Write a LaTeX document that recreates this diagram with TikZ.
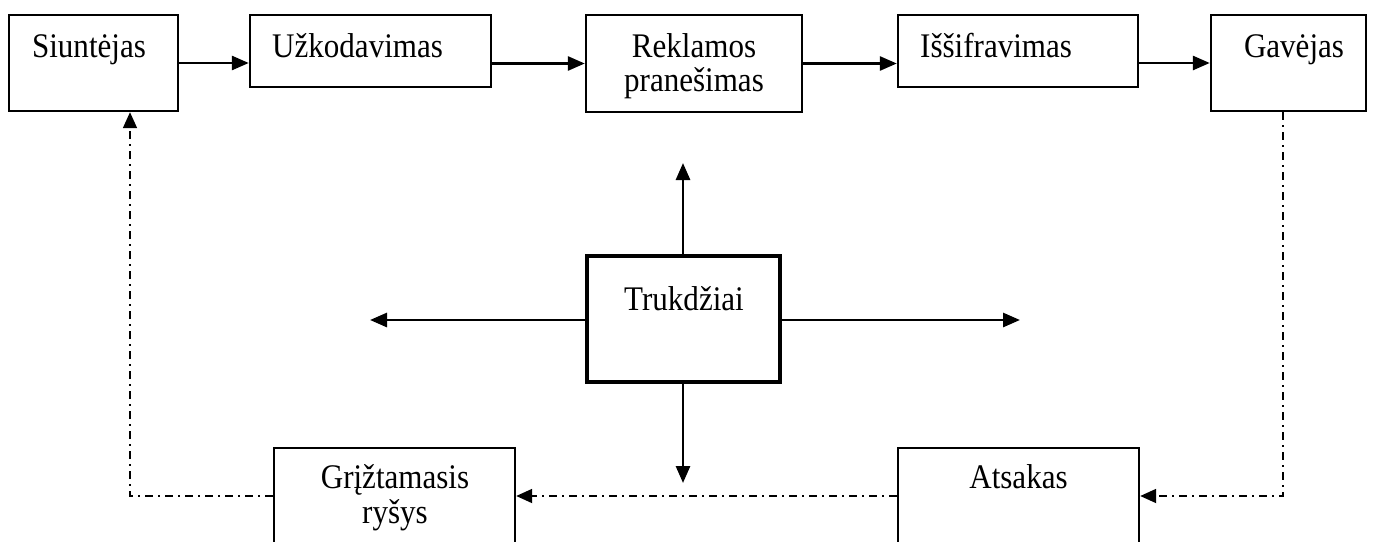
\documentclass[tikz,border=0pt]{standalone}
\usepackage{fontspec}
\setmainfont[FakeStretch=0.9]{Liberation Serif}
\usetikzlibrary{arrows.meta}

\tikzset{
  box/.style={draw, line width=2.4pt, inner sep=0pt, fill=white},
  lbl/.style={inner sep=0pt, font=\fontsize{34.5}{34}\selectfont, align=center},
  flow/.style={line width=2.8pt, -{Triangle[length=17pt,width=14pt]}},
  back/.style={line width=1.8pt, dash pattern=on 8pt off 5pt on 2pt off 5pt,
               -{Triangle[length=16pt,width=14pt]}},
}

\begin{document}
\begin{tikzpicture}[x=1pt, y=-1pt]
  \path[use as bounding box] (0,0) rectangle (1373,541);
  \clip (0,0) rectangle (1373,541);

  % top row
  \node[box, minimum width=169pt, minimum height=96pt] (snd) at (93.5,63) {};
  \node[box, minimum width=241pt, minimum height=72pt] (enc) at (370.5,51) {};
  \node[box, minimum width=216pt, minimum height=97pt] (msg) at (694,63.5) {};
  \node[box, minimum width=240pt, minimum height=72pt] (dec) at (1018,51) {};
  \node[box, minimum width=155pt, minimum height=96pt] (rcv) at (1288.5,63) {};

  % noise in the middle
  \node[box, line width=3.5pt, minimum width=193pt, minimum height=126pt] (noise) at (683.5,319) {};

  % bottom row
  \node[box, minimum width=241pt, minimum height=96pt] (fb)  at (394.5,496) {};
  \node[box, minimum width=241pt, minimum height=96pt] (ans) at (1018.5,496) {};

  % labels (two-line labels are placed by their last baseline)
  \node[lbl, anchor=base] (lsnd) at (89,57) {Siuntėjas};
  \node[lbl, anchor=base west] (lenc) at (272,57) {Užkodavimas};
  \node[lbl, anchor=base] (lmsg) at (694,91) {Reklamos\\pranešimas};
  \node[lbl, anchor=base west] (ldec) at (920,57) {Iššifravimas};
  \node[lbl, anchor=base] (lrcv) at (1294,57) {Gavėjas};
  \node[lbl, anchor=base] (lnoise) at (684,310) {Trukdžiai};
  \node[lbl, anchor=base, font=\fontsize{34.5}{35}\selectfont] (lfb) at (395,523) {Grįžtamasis\\ryšys};
  \node[lbl, anchor=base] (lans) at (1018.5,488) {Atsakas};

  % main flow
  \draw[flow] (snd.east) -- (snd.east -| enc.west);
  \draw[flow] (enc.east |- msg.west) -- (msg.west);
  \draw[flow] (msg.east) -- (msg.east -| dec.west);
  \draw[flow] (dec.east |- rcv.west) -- (rcv.west);

  % noise spreading in four directions
  \coordinate (nup) at (683,163);
  \coordinate (ndown) at (683,483);
  \coordinate (nleft) at (370,320);
  \coordinate (nright) at (1020,320);
  \draw[flow] (noise.north -| nup) -- (nup);
  \draw[flow] (noise.south -| ndown) -- (ndown);
  \draw[flow] (noise.west |- nleft) -- (nleft);
  \draw[flow] (noise.east |- nright) -- (nright);

  % feedback loop
  \draw[back] ([xshift=-5.5pt]rcv.south) |- (ans.east);
  \draw[back] (ans.west) -- (fb.east);
  \draw[back] (fb.west) -| ([xshift=36.5pt]snd.south);
\end{tikzpicture}
\end{document}
